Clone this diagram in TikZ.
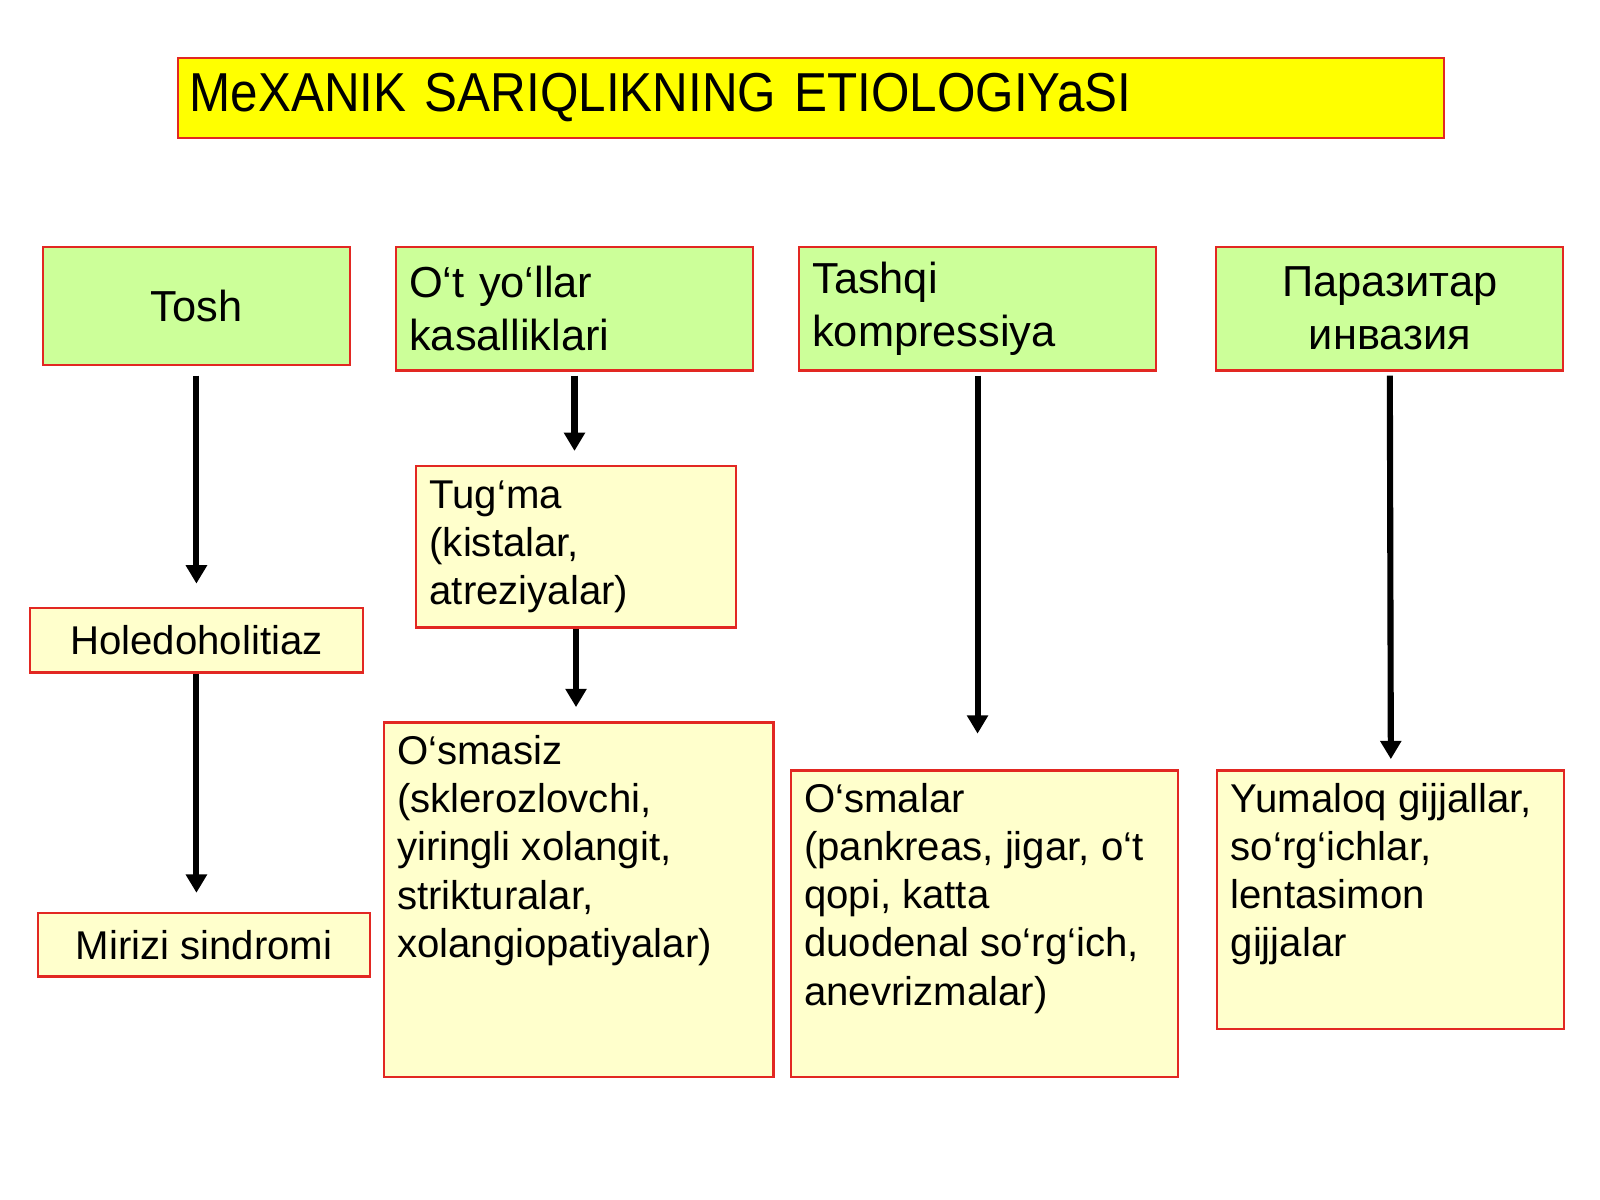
\documentclass[tikz,border=0pt]{standalone}
\usepackage{fontspec}
\setmainfont{Liberation Sans}
\newfontfamily\titlefont{Liberation Sans}[FakeStretch=0.9]
\usetikzlibrary{arrows.meta}

\definecolor{boxred}{RGB}{226,40,34}
\definecolor{titleyellow}{RGB}{255,255,0}
\definecolor{leafgreen}{RGB}{204,255,153}
\definecolor{paleyellow}{RGB}{255,255,204}

\tikzset{
  titlebox/.style={draw=boxred, fill=titleyellow, line width=0.6pt, anchor=west,
    inner xsep=0.12cm, text width=12.17cm, minimum height=0.78cm, align=left,
    font=\titlefont\fontsize{15.3}{18}\selectfont},
  gbox/.style={draw=boxred, fill=leafgreen, line width=0.6pt, anchor=north,
    inner xsep=0.13cm, minimum height=1.21cm,
    font=\fontsize{12.1}{14.8}\selectfont},
  ybox/.style={draw=boxred, fill=paleyellow, line width=0.6pt,
    inner xsep=0.13cm, inner ysep=0.13cm,
    font=\fontsize{11.2}{13.4}\selectfont},
  arr/.style={-{Triangle[length=0.18cm,width=0.2cm]}, line width=0.06cm}
}

% text block pinned to the top of a box
\newcommand{\topcell}[3]{\parbox[t][#1][t]{#2}{\raggedright #3}}

\begin{document}
\begin{tikzpicture}
  \useasboundingbox (0,0) rectangle (15.68,11.76);

  \node[titlebox] (title) at (1.73,10.80) {MeXANIK SARIQLIKNING ETIOLOGIYaSI};

  % causes
  \node[gbox, minimum height=1.16cm, text width=2.75cm, align=center] (tosh) at (1.925,9.35) {Tosh};
  \node[gbox, text width=3.24cm, align=left] (otyol) at (5.63,9.35) {O‘t yo‘llar\\kasalliklari};
  \node[gbox, text width=3.24cm, align=left] (tashqi) at (9.58,9.35) {Tashqi\\kompressiya};
  \node[gbox, text width=3.14cm, align=center] (parazit) at (13.62,9.35) {Паразитар\\инвазия};

  % details
  \node[ybox, minimum width=3.27cm, minimum height=0.63cm] (holedo) at (1.925,5.485) {Holedoholitiaz};
  \node[ybox, minimum width=3.26cm, minimum height=0.62cm] (mirizi) at (2.00,2.50) {Mirizi sindromi};
  \node[ybox, text width=2.87cm, minimum height=1.58cm, align=left] (tugma) at (5.645,6.40)
    {Tug‘ma\\(kistalar,\\atreziyalar)};
  \node[ybox, anchor=north west] (osmasiz) at (3.75,4.69)
    {\topcell{3.21cm}{3.56cm}{O‘smasiz\\(sklerozlovchi,\\yiringli xolangit,\\strikturalar,\\xolangiopatiyalar)}};
  \node[ybox, anchor=north west] (osmalar) at (7.74,4.22)
    {\topcell{2.74cm}{3.53cm}{O‘smalar\\(pankreas, jigar, o‘t\\qopi, katta\\duodenal so‘rg‘ich,\\anevrizmalar)}};
  \node[ybox, anchor=north west] (yumaloq) at (11.92,4.22)
    {\topcell{2.27cm}{3.14cm}{Yumaloq gijjallar,\\so‘rg‘ichlar,\\lentasimon\\gijjalar}};

  % arrows
  \draw[arr, shorten <=0.09cm, shorten >=0.23cm] (tosh.south) -- (holedo.north);
  \draw[arr, shorten >=0.19cm] (holedo.south) -- (holedo.south |- mirizi.north);
  \draw[arr, shorten <=0.04cm, shorten >=0.14cm] (otyol.south) -- (otyol.south |- tugma.north);
  \draw[arr, shorten >=0.14cm] (tugma.south) -- (tugma.south |- osmasiz.north);
  \draw[arr, shorten <=0.04cm, shorten >=0.35cm] (tashqi.south) -- (tashqi.south |- osmalar.north);
  \draw[arr, shorten <=0.04cm, shorten >=0.10cm] (parazit.south) -- (yumaloq.north);
\end{tikzpicture}
\end{document}
